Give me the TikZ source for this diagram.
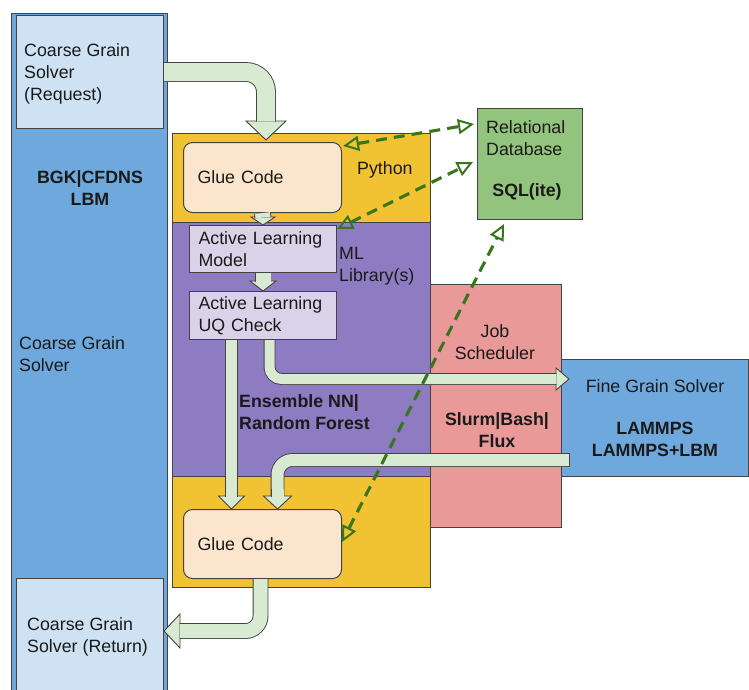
\documentclass[tikz,border=0pt]{standalone}
\usepackage{fontspec}
\setmainfont{Liberation Sans}
\usetikzlibrary{calc}
\usetikzlibrary{arrows.meta}
\definecolor{cgblue}{HTML}{6FA8DC}
\definecolor{reqblue}{HTML}{CFE2F3}
\definecolor{pyyellow}{HTML}{F1C232}
\definecolor{mlpurple}{HTML}{8E7CC3}
\definecolor{alpurple}{HTML}{D9D2E9}
\definecolor{gluepeach}{HTML}{FCE5CD}
\definecolor{jobpink}{HTML}{EA9999}
\definecolor{dbgreen}{HTML}{93C47D}
\definecolor{flowgreen}{HTML}{D9EAD3}
\definecolor{linkgreen}{HTML}{38761D}
\definecolor{edge}{HTML}{434343}
\definecolor{ink}{HTML}{1A1A1A}
\newcommand{\diafont}{\fontsize{17.8}{21.8}\selectfont}
\tikzset{
    zone/.style={
           rectangle,
           draw=edge, line width=1pt,
           inner sep=0pt,
           anchor=north west,
           },
    box/.style={
           zone,
           align=left,
           text=ink,
           },
    lbl/.style={text=ink, inner sep=0pt},
    flow/.style={draw=edge, line width=0.9pt, double=flowgreen, rounded corners=#1},
    flow/.default=12pt,
    flowhead/.style={draw=edge, line width=0.9pt, fill=flowgreen, line join=miter},
    link/.style={
           draw=linkgreen, line width=3.1pt, dash pattern=on 11pt off 7pt,
           {Triangle[open, length=16pt, width=15pt, line width=2pt]}-{Triangle[open, length=16pt, width=15pt, line width=2pt]},
           },
}
\begin{document}
\begin{tikzpicture}[x=1pt, y=-1pt, every node/.style={font=\diafont}]
      \useasboundingbox (0,0) rectangle (749,689);
      % coarse grain column
      \node[zone, fill=cgblue, minimum width=156pt, minimum height=700pt] (cgs) at (11,13) {};
      \node[zone, fill=reqblue, minimum width=147pt, minimum height=113pt] (req) at (16,15) {};
      \node[lbl, align=left, anchor=west] (lreq) at (24,74) {Coarse Grain\\Solver\\(Request)};
      \node[lbl, align=center, font=\diafont\bfseries] (lbgk) at (90,188) {BGK|CFDNS\\LBM};
      \node[lbl, align=left, anchor=west] (lcgs) at (19,354) {Coarse Grain\\Solver};
      \node[zone, fill=reqblue, minimum width=147pt, minimum height=130pt] (ret) at (16,578) {};
      \node[lbl, align=left, anchor=west] (lret) at (27,637) {Coarse Grain\\Solver (Return)};

      % python / ML stack
      \node[zone, fill=pyyellow, minimum width=258pt, minimum height=89pt] (pytop) at (172,133) {};
      \node[zone, fill=mlpurple, minimum width=258pt, minimum height=254pt] (ml) at (172,222) {};
      \node[zone, fill=pyyellow, minimum width=258pt, minimum height=111pt] (pybot) at (172,476) {};
      \node[zone, fill=jobpink, minimum width=131pt, minimum height=243pt] (sched) at (430,284) {};
      \node[zone, fill=cgblue, minimum width=187pt, minimum height=117pt, align=center, text=ink] (fine) at (561,359)
            {Fine Grain Solver\\[20pt]\textbf{LAMMPS}\\\textbf{LAMMPS+LBM}};
      \node[zone, fill=dbgreen, minimum width=105pt, minimum height=111pt] (db) at (477,108) {};
      \node[lbl, align=left, anchor=west] (lrel) at (486,138) {Relational\\Database};
      \node[lbl, font=\diafont\bfseries] (lsql) at (527,192) {SQL(ite)};

      \node[box, fill=gluepeach, rounded corners=9pt, minimum width=158pt, minimum height=70pt, text width=130pt, inner xsep=14pt] (glue1) at (183,142) {Glue Code};
      \node[box, fill=gluepeach, rounded corners=9pt, minimum width=158pt, minimum height=69pt, text width=130pt, inner xsep=14pt] (glue2) at (183,509) {Glue Code};
      \node[box, fill=alpurple, minimum width=147pt, minimum height=47pt, text width=129pt, inner xsep=9pt] (almodel) at (189,225) {Active Learning\\Model};
      \node[box, fill=alpurple, minimum width=147pt, minimum height=48pt, text width=129pt, inner xsep=9pt] (aluq) at (189,291) {Active Learning\\UQ Check};

      \node[lbl, anchor=west] (lpy) at (357,170) {Python};
      \node[lbl, anchor=west, align=left] (lml) at (339,266) {ML\\Library(s)};
      \node[lbl, anchor=west, align=left, font=\diafont\bfseries] (lens) at (239,412) {Ensemble NN|\\Random Forest};
      \node[lbl, align=center] (ljob) at (495,342) {Job\\Scheduler};
      \node[lbl, align=center, font=\diafont\bfseries] (lslurm) at (497,430) {Slurm|Bash|\\Flux};

      % fat flow arrows
      \coordinate (h1) at (266,140);
      \filldraw[flowhead] (h1) -- ++(-20,-19) -- ++(40,0) -- cycle;
      \draw[flow=20pt, double distance=18pt] (req.east) -- (req.east -| h1) -- ($(h1)+(0,-18.5)$);

      \filldraw[flowhead] (almodel.north) -- ++(-12,-8) -- ++(24,0) -- cycle;
      \draw[flow, double distance=15pt] (glue1.south) -- ($(almodel.north)+(0,-7.5)$);

      \filldraw[flowhead] (aluq.north) -- ++(-13,-10) -- ++(26,0) -- cycle;
      \draw[flow, double distance=15pt] (almodel.south) -- ($(aluq.north)+(0,-9.5)$);

      \coordinate (h4) at ($(glue2.north)+(-31,0)$);
      \filldraw[flowhead] (h4) -- ++(-13,-13) -- ++(26,0) -- cycle;
      \draw[flow, double distance=11pt] (aluq.south -| h4) -- ($(h4)+(0,-12.5)$);

      \coordinate (h5) at ($(fine.north west)+(8,20)$);
      \filldraw[flowhead] (h5) -- ++(-13,-11) -- ++(0,22) -- cycle;
      \draw[flow, double distance=10pt] ($(aluq.south)+(6.5,0)$) |- ($(h5)+(-12.5,0)$);

      \coordinate (h6) at ($(glue2.north)+(15,0)$);
      \coordinate (s6) at ($(fine.south west)+(8,-17)$);
      \draw[flow=15pt, double distance=12pt] (s6) -| ($(h6)+(0,-12.5)$);
      \draw[draw=edge, line width=0.9pt] ($(s6)+(0,-6.9)$) -- ++(0,13.8);
      \filldraw[flowhead] (h6) -- ++(-14,-13) -- ++(28,0) -- cycle;
      \draw[flow=15pt, double distance=12pt] ($(h6)+(0,-20)$) -- ($(h6)+(0,-12.5)$);

      \coordinate (h7) at ($(ret.north east)+(0,53)$);
      \filldraw[flowhead] (h7) -- ++(16,-17) -- ++(0,34) -- cycle;
      \draw[flow=15pt, double distance=14pt] ($(glue2.south)+(-2,0)$) |- ($(h7)+(15.5,0)$);

      % database links
      \draw[link] ($(glue1.north east)+(1,4)$) -- ($(db.north west)+(-3,16)$);
      \draw[link] ($(almodel.north east)+(0,4)$) -- ($(db.west)+(-4,-2)$);
      \draw[link] ($(glue2.east)+(0,-2)$) -- ($(db.south)+(-26,4)$);
\end{tikzpicture}
\end{document}
